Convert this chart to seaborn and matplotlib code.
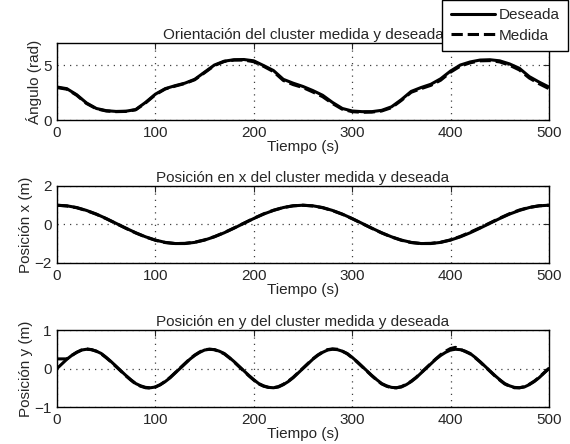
import numpy as np
import pandas as pd
import matplotlib
matplotlib.use("Agg")
import matplotlib.pyplot as plt
import seaborn as sns

# tiempo (s)
t10 = list(range(0, 501, 10))
t5 = list(range(0, 501, 5))

# orientacion (rad)
ang_des = [3.0, 2.85, 2.3, 1.55, 1.05, 0.85, 0.78, 0.8, 0.95, 1.6, 2.35, 2.85, 3.12, 3.35, 3.7,
           4.35, 5.0, 5.35, 5.48, 5.5, 5.38, 4.95, 4.5, 3.7, 3.35, 3.05, 2.68, 2.25, 1.6, 1.05,
           0.82, 0.76, 0.76, 0.88, 1.2, 1.85, 2.6, 2.95, 3.25, 3.75, 4.45, 5.0, 5.28, 5.45, 5.48,
           5.38, 5.1, 4.7, 3.95, 3.45, 3.0]
ang_med = [2.95, 2.8, 2.25, 1.5, 1.02, 0.82, 0.76, 0.78, 0.93, 1.55, 2.3, 2.82, 3.08, 3.32, 3.66,
           4.3, 4.95, 5.32, 5.45, 5.45, 5.3, 4.88, 4.4, 3.6, 3.22, 2.95, 2.55, 2.12, 1.5, 0.98,
           0.76, 0.7, 0.72, 0.82, 1.12, 1.78, 2.52, 2.85, 3.15, 3.62, 4.35, 4.9, 5.2, 5.38, 5.4,
           5.28, 4.98, 4.55, 3.82, 3.3, 2.85]

# posicion x (m)
px_des = [1.0, 0.97, 0.88, 0.73, 0.54, 0.31, 0.06, -0.19, -0.43, -0.64, -0.81, -0.93, -0.99,
          -0.99, -0.93, -0.81, -0.64, -0.43, -0.19, 0.06, 0.31, 0.54, 0.73, 0.88, 0.97, 1.0,
          0.97, 0.88, 0.73, 0.54, 0.31, 0.06, -0.19, -0.43, -0.64, -0.81, -0.93, -0.99,
          -0.99, -0.93, -0.81, -0.64, -0.43, -0.19, 0.06, 0.31, 0.54, 0.73, 0.88, 0.97, 1.0]
px_med = [1.0, 0.96, 0.87, 0.72, 0.53, 0.30, 0.05, -0.20, -0.44, -0.65, -0.82, -0.94, -0.99,
          -0.98, -0.92, -0.80, -0.63, -0.42, -0.18, 0.07, 0.32, 0.55, 0.74, 0.88, 0.97, 1.0,
          0.96, 0.87, 0.72, 0.53, 0.30, 0.05, -0.20, -0.44, -0.65, -0.82, -0.94, -0.99,
          -0.98, -0.92, -0.80, -0.62, -0.40, -0.17, 0.08, 0.33, 0.56, 0.75, 0.89, 0.97, 1.0]

# posicion y (m)
py_des = [0.0, 0.12, 0.24, 0.34, 0.42, 0.48, 0.5, 0.49, 0.45, 0.39, 0.29, 0.18, 0.06,
          -0.06, -0.18, -0.29, -0.39, -0.45, -0.49, -0.5, -0.48, -0.42, -0.34, -0.24, -0.12,
          0.0, 0.12, 0.24, 0.34, 0.42, 0.48, 0.5, 0.49, 0.45, 0.39, 0.29, 0.18, 0.06,
          -0.06, -0.18, -0.29, -0.39, -0.45, -0.49, -0.5, -0.48, -0.42, -0.34, -0.24, -0.12,
          0.0, 0.12, 0.24, 0.34, 0.42, 0.48, 0.5, 0.49, 0.45, 0.39, 0.29, 0.18, 0.06,
          -0.06, -0.18, -0.29, -0.39, -0.45, -0.49, -0.5, -0.48, -0.42, -0.34, -0.24, -0.12,
          0.0, 0.12, 0.24, 0.34, 0.42, 0.48, 0.5, 0.49, 0.45, 0.39, 0.29, 0.18, 0.06,
          -0.06, -0.18, -0.29, -0.39, -0.45, -0.49, -0.5, -0.48, -0.42, -0.34, -0.24, -0.12,
          0.0]
py_med = [0.25, 0.25, 0.25, 0.34, 0.42, 0.48, 0.51, 0.49, 0.45, 0.38, 0.28, 0.17, 0.05,
          -0.07, -0.19, -0.3, -0.4, -0.46, -0.5, -0.51, -0.48, -0.42, -0.33, -0.23, -0.11,
          0.01, 0.13, 0.25, 0.35, 0.43, 0.49, 0.5, 0.49, 0.44, 0.38, 0.28, 0.17, 0.05,
          -0.07, -0.19, -0.3, -0.4, -0.46, -0.49, -0.5, -0.47, -0.41, -0.33, -0.23, -0.11,
          0.01, 0.13, 0.25, 0.35, 0.43, 0.49, 0.51, 0.5, 0.45, 0.38, 0.28, 0.17, 0.05,
          -0.07, -0.19, -0.3, -0.4, -0.46, -0.5, -0.5, -0.47, -0.41, -0.33, -0.23, -0.11,
          0.01, 0.13, 0.25, 0.36, 0.45, 0.52, 0.55, 0.5, 0.44, 0.38, 0.28, 0.17, 0.05,
          -0.07, -0.19, -0.3, -0.4, -0.46, -0.5, -0.5, -0.47, -0.41, -0.33, -0.23, -0.11,
          0.0]

sns.set_style("white")
plt.rcParams['font.family'] = ['Liberation Sans', 'DejaVu Sans']
plt.rcParams['font.size'] = 11

fig = plt.figure(figsize=(5.7, 4.44), dpi=100)
h = 77 / 444
ax1 = fig.add_axes([0.1, 0.7297, 0.863, h])
ax2 = fig.add_axes([0.1, 0.4077, 0.863, h])
ax3 = fig.add_axes([0.1, 0.0833, 0.863, h])

paneles = [
    (ax1, t10, ang_des, t10, ang_med, (0, 7), [0, 5], "Ángulo (rad)",
     "Orientación del cluster medida y deseada"),
    (ax2, t10, px_des, t10, px_med, (-2, 2), [-2, 0, 2], "Posición x (m)",
     "Posición en x del cluster medida y deseada"),
    (ax3, t5, py_des, t5, py_med, (-1, 1), [-1, 0, 1], "Posición y (m)",
     "Posición en y del cluster medida y deseada"),
]

for ax, td, yd, tm, ym, lim, yt, ylab, tit in paneles:
    sns.lineplot(x=tm, y=ym, ax=ax, color="black", lw=2.2, linestyle="--", label="Medida")
    sns.lineplot(x=td, y=yd, ax=ax, color="black", lw=2.2, label="Deseada")
    ax.set_xlim(0, 500)
    ax.set_ylim(*lim)
    ax.set_xticks([0, 100, 200, 300, 400, 500])
    ax.set_yticks(yt)
    ax.grid(True, linestyle=(0, (1, 4)), color="0.25", lw=0.9)
    ax.tick_params(direction="in", top=True, right=True, length=4, width=0.8,
                   labelsize=11, pad=4)
    for s in ax.spines.values():
        s.set_color("black")
        s.set_linewidth(1)
    ax.set_xlabel("Tiempo (s)", fontsize=11, labelpad=0)
    ax.set_ylabel(ylab, fontsize=11, labelpad=1)
    ax.set_title(tit, fontsize=11, pad=3)
    ax.get_legend().remove()

handles, labels = ax1.get_legend_handles_labels()
leg = fig.legend(handles[::-1], labels[::-1], loc="upper right",
                 bbox_to_anchor=(0.997, 1.0), frameon=True, fancybox=False,
                 edgecolor="black", fontsize=11, handlelength=2.9,
                 borderaxespad=0, borderpad=0.55, labelspacing=0.4, handletextpad=0.25)
leg.get_frame().set_linewidth(1)
leg.get_frame().set_alpha(1)

fig.savefig("out.png", dpi=100)
